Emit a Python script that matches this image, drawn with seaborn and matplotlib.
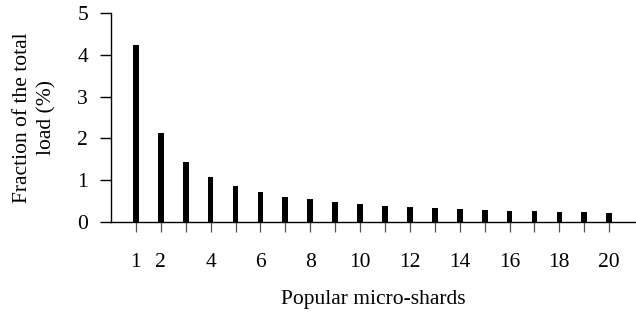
import matplotlib
matplotlib.use("Agg")
import matplotlib.pyplot as plt
import seaborn as sns
import pandas as pd

ranks = list(range(1, 21))
load_pct = [4.23, 2.13, 1.43, 1.08, 0.86, 0.72, 0.61, 0.54, 0.49, 0.44,
            0.39, 0.36, 0.33, 0.31, 0.29, 0.27, 0.26, 0.25, 0.23, 0.22]
tick_labels = ["1", "2", "", "4", "", "6", "", "8", "", "10",
               "", "12", "", "14", "", "16", "", "18", "", "20"]

sns.set_style("ticks")
plt.rcParams["font.family"] = ["Liberation Serif", "DejaVu Serif"]
plt.rcParams["text.color"] = "black"
plt.rcParams["axes.labelcolor"] = "black"
plt.rcParams["xtick.labelcolor"] = "black"
plt.rcParams["ytick.labelcolor"] = "black"

df = pd.DataFrame({"rank": ranks, "load": load_pct})

fig = plt.figure(figsize=(6.36, 3.12), dpi=100)
ax = fig.add_axes([0.1745, 0.2885, 0.8245, 0.6695])

sns.barplot(data=df, x="rank", y="load", native_scale=True, color="black",
            width=0.23, saturation=1, ax=ax, edgecolor="black", linewidth=0)

ax.set_xlim(0, 21.05)
ax.set_ylim(0, 5)
ax.set_yticks([0, 1, 2, 3, 4, 5])
ax.set_xticks(ranks)
ax.set_xticklabels(tick_labels)
for s in ["top", "right"]:
    ax.spines[s].set_visible(False)
for s in ["left", "bottom"]:
    ax.spines[s].set_linewidth(1.0)
    ax.spines[s].set_color("black")

fs = 15.5
ax.tick_params(axis="x", direction="out", length=7.5, width=0.9, color="#555555",
               pad=15, labelsize=fs)
ax.tick_params(axis="y", direction="out", length=8, width=1.0, color="black",
               pad=8.5, labelsize=fs)

ax.set_xlabel("Popular micro-shards", fontsize=fs, labelpad=13)
ax.set_ylabel("Fraction of the total\nload (%)", fontsize=fs, labelpad=15,
              linespacing=1.35)

fig.savefig("out.png", dpi=100)
